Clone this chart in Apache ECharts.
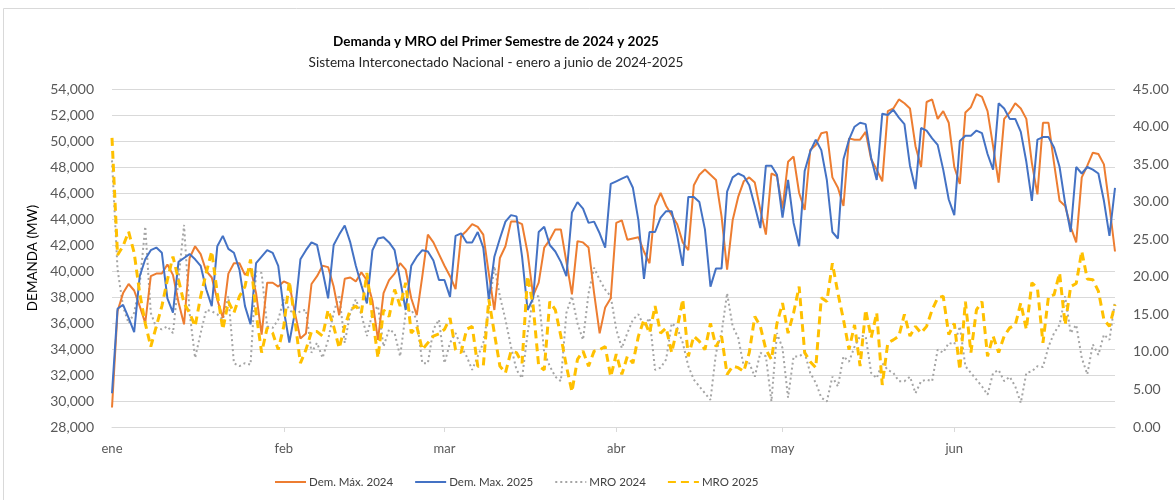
<!DOCTYPE html>
<html>
<head>
<meta charset="utf-8">
<script src="https://cdn.jsdelivr.net/npm/echarts@6/dist/echarts.min.js"></script>
<style>
  html, body { margin: 0; padding: 0; background: #fff; }
  #main { width: 1175px; height: 500px; }
</style>
</head>
<body>
<div id="main"></div>
<script>
// meses del eje (2024 bisiesto, 182 dias)
var monthNames = ['ene', 'feb', 'mar', 'abr', 'may', 'jun'];
var monthDays = [31, 29, 31, 30, 31, 30];

// Demanda maxima diaria (MW)
var dem2024 = [
  29500,36900,38300,39000,38500,37300,36000,39600,39800,39800,
  40500,39700,37600,35900,41000,41900,41300,40000,39500,37800,
  36400,39800,40600,40600,39700,40200,38300,35100,39100,39100,
  38800,39200,39000,36800,34800,35200,39000,39600,40400,40300,
  38800,36600,39400,39500,39200,39900,39300,37700,34700,38300,
  39300,39800,40600,40100,37900,36600,39600,42800,42200,41300,
  40400,39600,38600,42700,43100,43600,43400,42800,39800,37000,
  41000,41900,43800,43800,43600,41400,38100,39100,41800,42400,
  43200,43200,40700,38200,42300,42200,41800,38300,35200,37200,
  37900,43700,43900,42400,42500,42600,41500,40600,45000,46000,
  45000,44300,43600,42200,41600,46600,47400,47800,47400,47000,
  44200,40100,43900,45700,46900,47200,46800,44700,42800,47500,
  47300,44800,48400,48800,46000,44700,49300,49700,50600,50700,
  47200,46400,45000,50200,50100,50100,50700,48600,47800,46900,
  52300,52500,53200,52900,52500,49600,48000,53000,53200,51700,
  52300,51400,48000,46700,52200,52600,53600,53400,52300,49600,
  46800,51700,52200,52900,52500,51700,48300,45900,51400,51400,
  48300,45400,45000,43400,42200,47200,48100,49100,49000,48200,
  45000,41500
];
var dem2025 = [
  30600,37100,37400,36400,35300,39600,40900,41600,41800,41400,
  37900,36800,40700,41000,41300,40900,40400,38600,37300,41900,
  42700,41700,41400,40100,37300,35900,40600,41100,41600,41400,
  40400,37000,34500,36800,40900,41600,42200,42000,40000,37900,
  42000,42800,43500,42200,40400,38900,37500,41600,42500,42600,
  42200,41600,39300,37000,40400,41100,41600,41500,40800,39300,
  39300,38000,42700,42900,42200,42200,43000,41800,37800,41100,
  42500,43800,44300,44200,41100,37000,37900,43000,43400,42000,
  41500,40700,39600,44500,45300,44800,43700,43800,42900,41800,
  46700,46900,47100,47300,46400,43900,39400,43000,43000,44100,
  44600,44600,42700,40400,45700,45700,45300,43200,38800,40200,
  40200,46100,47200,47500,47300,46600,45000,43300,48100,48100,
  47400,44100,47000,43700,41900,47700,49200,50100,49300,47000,
  43000,42500,48600,50100,51100,51400,51300,48700,47000,52100,
  52000,52400,51800,51300,48100,46300,51000,50800,50200,49700,
  47800,45500,44300,50000,50400,50400,50800,50600,49000,47800,
  52900,52500,51700,51700,50700,48400,45400,50100,50300,50300,
  49500,48000,45200,43000,48000,47500,48000,47800,47500,45400,
  42700,46400
];
// MRO (eje derecho)
var mro2024 = [
  35.5,21,16,13.8,15.2,19,26.7,15.2,13.2,13.0,
  13.4,12.5,19.6,26.9,15.2,9.2,12.5,15.6,15.4,15.0,
  14.3,17.4,8.5,8.1,8.5,8.3,20.7,20.5,13.4,13.2,
  14.3,17.0,15.6,15.0,15.4,15.6,9.9,11.2,9.2,11.6,
  15.2,17.6,11.2,15.2,17.0,15.0,12.1,15.2,16.1,10.7,
  13.0,12.5,9.4,15.2,15.6,14.3,8.5,8.5,13.0,14.3,
  8.5,11.2,12.5,10.7,9.4,7.6,9.4,11.2,15.6,21.4,
  17.4,14.3,10.7,7.6,6.5,12.5,17.4,17.4,9.9,8.1,
  6.7,6.1,15.2,17.4,13.8,11.6,17.8,21.2,19.6,18.3,
  17.4,13.0,10.5,12.5,14.3,15.0,13.4,14.5,7.6,7.9,
  9.0,13.8,13.2,11.2,8.1,6.3,5.4,4.5,3.6,9.9,
  12.5,17.8,13.4,11.9,8.1,8.5,6.7,9.9,9.4,3.4,
  12.5,10.5,3.9,9.4,9.4,9.9,7.2,5.9,3.9,3.4,
  6.7,5.4,9.4,8.7,10.7,12.1,12.1,7.2,6.5,8.5,
  7.6,7.2,6.1,6.1,6.7,4.5,6.1,6.3,6.1,10.3,
  9.9,11.2,11.0,13.4,8.1,7.2,6.3,5.4,4.3,7.2,
  7.6,6.1,6.7,5.4,3.2,7.2,7.4,8.1,8.0,10.7,
  12.5,13.6,17.4,12.5,13.6,9.2,7.0,11.0,9.6,12.3,
  11.6,16.7
];
var mro2025 = [
  38.5,22.9,24.1,26.0,23.2,17.8,13.8,10.7,13.4,16.1,
  19.6,22.7,19.6,16.5,15.2,13.4,17.4,20.5,23.4,17.8,
  13.0,16.7,15.2,17.4,18.7,22.3,15.2,9.9,13.2,12.5,
  10.3,13.4,19.4,14.3,8.5,10.3,12.7,12.7,12.1,15.6,
  13.4,10.5,13.4,15.6,16.1,15.2,20.5,14.7,9.2,15.6,
  14.7,18.3,16.1,19.2,12.5,13.4,10.3,11.2,12.1,12.4,
  13.0,14.5,10.3,9.9,13.0,13.4,8.1,8.1,17.0,12.5,
  8.1,7.2,10.1,9.9,8.5,20.1,16.1,8.1,7.6,16.7,
  15.6,12.1,8.1,4.7,9.0,10.1,8.1,10.1,10.3,10.7,
  6.7,9.7,7.0,9.4,8.5,12.1,14.3,12.5,16.1,12.5,
  13.2,9.9,13.2,17.0,9.4,12.1,11.4,10.3,13.8,10.7,
  12.1,7.0,8.1,7.9,7.4,9.9,14.7,13.4,10.3,9.0,
  13.8,16.5,12.5,15.2,18.7,9.9,8.7,7.9,17.2,16.7,
  21.8,17.8,14.3,10.3,13.6,8.1,15.6,11.9,15.2,5.6,
  11.2,11.6,12.1,15.0,12.1,13.4,12.5,13.4,15.6,17.2,
  17.4,12.3,13.8,7.6,16.7,9.9,15.6,16.7,9.4,12.1,
  9.9,12.1,13.2,13.6,16.5,13.0,19.2,18.5,11.2,17.4,
  17.6,20.5,13.6,18.7,19.1,23.4,19.7,19.6,18.1,14.3,
  13.4,16.3
];

// categorias dia-mes
var days = [];
var monthStart = {};
for (var m = 0; m < monthNames.length; m++) {
  monthStart[days.length] = monthNames[m];
  for (var d = 1; d <= monthDays[m]; d++) {
    days.push(d + ' ' + monthNames[m]);
  }
}

var fontName = 'Lato';
var txtColor = '#595959';

var myChart = echarts.init(document.getElementById('main'));
var option = {
  backgroundColor: '#fff',
  animation: false,
  textStyle: { fontFamily: fontName },
  title: [{
    text: 'Demanda y MRO del Primer Semestre de 2024 y 2025',
    left: 491, top: 30, textAlign: 'center',
    textStyle: { fontFamily: fontName, fontSize: 13.5, fontWeight: 'bold', color: '#000' }
  }, {
    text: 'Sistema Interconectado Nacional - enero a junio de 2024-2025',
    left: 491, top: 51, textAlign: 'center',
    textStyle: { fontFamily: fontName, fontSize: 13.6, fontWeight: 'normal', color: '#262626' }
  }],
  graphic: [{
    type: 'rect', silent: true,
    shape: { x: 3.5, y: 8.5, width: 1300, height: 600 },
    style: { fill: null, stroke: '#D9D9D9', lineWidth: 1 }
  }],
  legend: {
    left: 274, top: 476, padding: 0,
    itemWidth: 31, itemHeight: 10, itemGap: 21,
    itemStyle: { opacity: 0 },
    textStyle: { fontFamily: fontName, fontSize: 11.5, color: '#404040', padding: [0, 0, 0, -2] },
    data: ['Dem. Máx. 2024', 'Dem. Max. 2025', 'MRO 2024', 'MRO 2025']
  },
  grid: { left: 112, right: 60, top: 89, bottom: 73, containLabel: false },
  xAxis: {
    type: 'category',
    boundaryGap: false,
    data: days,
    axisLine: { lineStyle: { color: '#D9D9D9' } },
    axisTick: {
      show: true, length: 5, lineStyle: { color: '#D9D9D9' },
      interval: function (i) { return monthStart[i] !== undefined && i > 0; }
    },
    axisLabel: {
      interval: function (i) { return monthStart[i] !== undefined; },
      formatter: function (v, i) { return monthStart[i]; },
      color: txtColor, fontSize: 13, margin: 15, fontFamily: fontName
    },
    splitLine: { show: false }
  },
  yAxis: [{
    type: 'value',
    min: 28000, max: 54000, interval: 2000,
    name: 'DEMANDA (MW)',
    nameLocation: 'middle', nameGap: 64, nameRotate: 90,
    nameTextStyle: { fontFamily: fontName, fontSize: 13.5, color: '#000' },
    axisLine: { show: false },
    axisTick: { show: false },
    axisLabel: {
      color: txtColor, fontSize: 14, margin: 18, fontFamily: fontName,
      formatter: function (v) { return v.toLocaleString('en-US'); }
    },
    splitLine: { lineStyle: { color: '#D9D9D9', width: 1 } }
  }, {
    type: 'value',
    min: 0, max: 45, interval: 5,
    axisLine: { show: false },
    axisTick: { show: false },
    axisLabel: {
      color: txtColor, fontSize: 14, margin: 18, fontFamily: fontName,
      formatter: function (v) { return v.toFixed(2); }
    },
    splitLine: { show: false }
  }],
  series: [{
    name: 'Dem. Máx. 2024', type: 'line', yAxisIndex: 0,
    data: dem2024, symbol: 'none', z: 3,
    lineStyle: { color: '#ED7D31', width: 2 }, itemStyle: { color: '#ED7D31' }
  }, {
    name: 'Dem. Max. 2025', type: 'line', yAxisIndex: 0,
    data: dem2025, symbol: 'none', z: 4,
    lineStyle: { color: '#4472C4', width: 2 }, itemStyle: { color: '#4472C4' }
  }, {
    name: 'MRO 2024', type: 'line', yAxisIndex: 1,
    data: mro2024, symbol: 'none', z: 2,
    lineStyle: { color: '#A5A5A5', width: 2, type: [2, 3] }, itemStyle: { color: '#A5A5A5' }
  }, {
    name: 'MRO 2025', type: 'line', yAxisIndex: 1,
    data: mro2025, symbol: 'none', z: 5,
    lineStyle: { color: '#FFC000', width: 3, type: [8, 5] }, itemStyle: { color: '#FFC000' }
  }]
};
myChart.setOption(option);
</script>
</body>
</html>
